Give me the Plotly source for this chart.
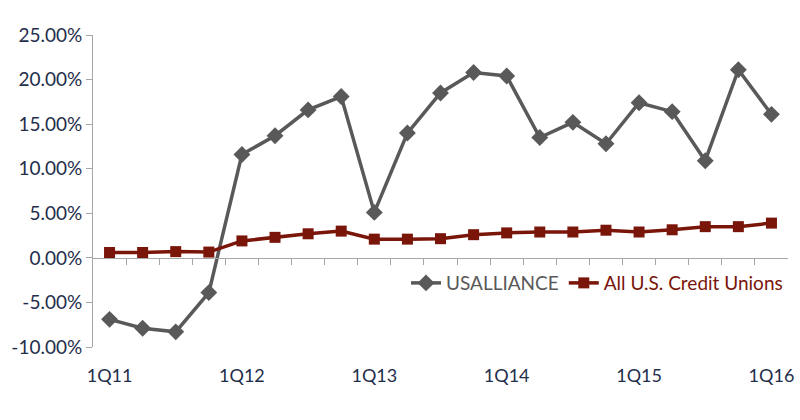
import plotly.graph_objects as go

quarters = ["1Q11", "2Q11", "3Q11", "4Q11",
            "1Q12", "2Q12", "3Q12", "4Q12",
            "1Q13", "2Q13", "3Q13", "4Q13",
            "1Q14", "2Q14", "3Q14", "4Q14",
            "1Q15", "2Q15", "3Q15", "4Q15",
            "1Q16"]
usalliance = [-6.9, -7.9, -8.3, -3.9,
              11.6, 13.7, 16.6, 18.1,
              5.1, 14.0, 18.5, 20.8,
              20.4, 13.5, 15.2, 12.8,
              17.4, 16.4, 10.9, 21.1,
              16.1]
all_cu = [0.6, 0.6, 0.7, 0.65,
          1.9, 2.3, 2.7, 3.0,
          2.1, 2.1, 2.15, 2.6,
          2.8, 2.9, 2.9, 3.1,
          2.9, 3.15, 3.5, 3.5,
          3.9]
x_labels = ["1Q11", "1Q12", "1Q13", "1Q14", "1Q15", "1Q16"]
y_ticks = [-10, -5, 0, 5, 10, 15, 20, 25]

GRAY = "#595959"
RED = "#7A1509"
NAVY = "#1F2E4B"
FONT = "Lato, Open Sans, sans-serif"

idx = list(range(len(quarters)))

fig = go.Figure()
fig.add_trace(go.Scatter(
    x=idx, y=usalliance, mode="lines+markers",
    name=f"<span style='color:{GRAY}'>USALLIANCE</span>",
    line=dict(color=GRAY, width=3.5),
    marker=dict(symbol="diamond", size=13, color=GRAY),
))
fig.add_trace(go.Scatter(
    x=idx, y=all_cu, mode="lines+markers",
    name=f"<span style='color:{RED}'>All U.S. Credit Unions</span>",
    line=dict(color=RED, width=3.5),
    marker=dict(symbol="square", size=11, color=RED),
))
# invisible trace to activate the zero-crossing category axis
fig.add_trace(go.Scatter(x=[0], y=[0], xaxis="x2", mode="markers",
                         marker=dict(opacity=0), showlegend=False, hoverinfo="skip"))

zero_pos = (0 - y_ticks[0]) / (y_ticks[-1] - y_ticks[0])

fig.update_layout(
    width=800, height=420,
    margin=dict(l=93, r=12, t=35, b=73, autoexpand=False),
    paper_bgcolor="white", plot_bgcolor="white",
    font=dict(family=FONT, size=19, color=NAVY),
    showlegend=True,
    legend=dict(orientation="h", x=1.0, xanchor="right", y=0.205, yanchor="middle",
                font=dict(size=19, family=FONT), bgcolor="rgba(0,0,0,0)",
                itemwidth=30, tracegroupgap=0),
    xaxis=dict(
        range=[-0.5, len(quarters) - 0.5],
        tickmode="array",
        tickvals=[quarters.index(q) for q in x_labels],
        ticktext=x_labels,
        showgrid=False, zeroline=False, showline=False, ticks="outside",
        ticklen=12, tickcolor="rgba(0,0,0,0)",
        tickfont=dict(size=18, color=NAVY, family=FONT),
        automargin=False,
    ),
    xaxis2=dict(
        overlaying="x", anchor="free", position=zero_pos,
        range=[-0.5, len(quarters) - 0.5],
        tickmode="array",
        tickvals=[i + 0.5 for i in idx[:-1]],
        showticklabels=False,
        showgrid=False, zeroline=False,
        showline=True, linecolor="#A6A6A6", linewidth=1,
        ticks="outside", ticklen=6, tickcolor="#A6A6A6",
        automargin=False,
    ),
    yaxis=dict(
        range=[y_ticks[0], y_ticks[-1]],
        tickmode="array", tickvals=y_ticks,
        ticktext=[f"{v:.2f}%" for v in y_ticks],
        showgrid=False, zeroline=False,
        showline=True, linecolor="#A6A6A6", linewidth=1,
        ticks="outside", ticklen=6, tickcolor="#A6A6A6",
        tickfont=dict(size=19, color=NAVY, family=FONT),
        automargin=False,
    ),
)

fig.write_html("out.html",
               config={"displayModeBar": False},
               post_script="document.body.style.margin='0';document.body.style.padding='0';")
